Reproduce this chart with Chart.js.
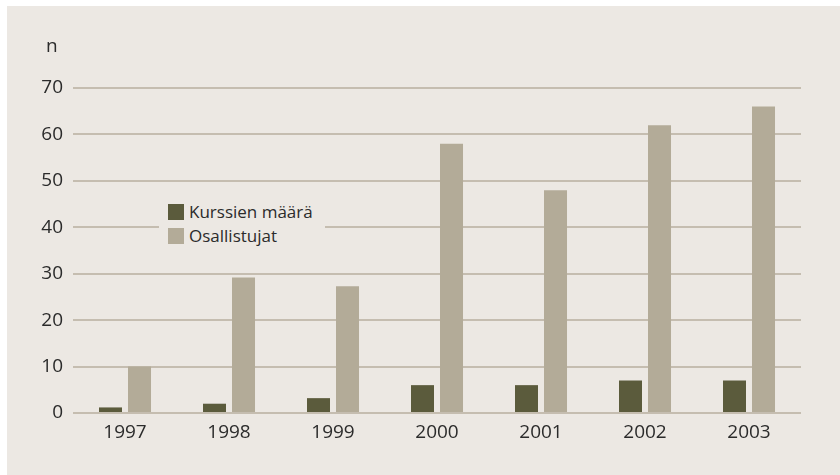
<!DOCTYPE html>
<html>
<head>
<meta charset="utf-8">
<script src="https://cdn.jsdelivr.net/npm/chart.js@4/dist/chart.umd.min.js"></script>
<style>
    html, body { margin: 0; padding: 0; background: #fff; }
    body { width: 840px; height: 475px; position: relative; overflow: hidden; font-family: "Open Sans", sans-serif; }
    .panel { position: absolute; left: 7px; top: 6px; right: 0; bottom: 0; background: #ece8e3; }
    .chart-wrap { position: absolute; left: 0; top: 0; width: 840px; height: 475px; }
    .unit { position: absolute; left: 46px; top: 32px; font-size: 19px; color: #2b2b2b; }
    .legend { position: absolute; left: 159px; top: 199px; width: 166px; height: 50px; background: #ece8e3; }
    .legend-item { position: absolute; left: 9px; height: 16px; font-size: 17px; color: #2b2b2b; line-height: 16px; white-space: nowrap; }
    .legend-item .box { display: inline-block; width: 16px; height: 16px; vertical-align: top; margin-right: 5px; }
</style>
</head>
<body>
<div class="panel"></div>
<div class="chart-wrap"><canvas id="courseChart" width="840" height="475"></canvas></div>
<div class="unit">n</div>
<div class="legend" id="legend"></div>
<script>
const years = ['1997', '1998', '1999', '2000', '2001', '2002', '2003'];
const courseCounts = [1.2, 2, 3.2, 6, 6, 7, 7];
const participants = [10, 29.2, 27.3, 58, 48, 62, 66];
const seriesNames = ['Kurssien määrä', 'Osallistujat'];
const seriesColors = ['#5b5b3c', '#b3ab98'];
const yTicks = [0, 10, 20, 30, 40, 50, 60, 70];

const tickFont = { family: 'Open Sans', size: 19 };

const chart = new Chart(document.getElementById('courseChart'), {
    type: 'bar',
    data: {
        labels: years,
        datasets: [{
            label: seriesNames[0],
            data: courseCounts,
            backgroundColor: seriesColors[0]
        }, {
            label: seriesNames[1],
            data: participants,
            backgroundColor: seriesColors[1]
        }]
    },
    options: {
        responsive: false,
        animation: false,
        layout: { padding: { left: 33, right: 39, top: 88, bottom: 32 } },
        categoryPercentage: 0.558,
        barPercentage: 0.793,
        plugins: {
            legend: { display: false },
            tooltip: { enabled: false }
        },
        scales: {
            x: {
                grid: { display: false },
                border: { display: false },
                ticks: { color: '#2b2b2b', font: tickFont, padding: 0 },
                afterFit: (s) => { s.height = 30; }
            },
            y: {
                min: 0,
                max: 70,
                afterBuildTicks: (s) => { s.ticks = yTicks.map(v => ({ value: v })); },
                grid: { color: '#c5bdb0', lineWidth: 2, drawTicks: false },
                border: { display: false },
                ticks: { color: '#2b2b2b', font: tickFont, padding: 10 },
                afterFit: (s) => { s.width = 40; }
            }
        }
    }
});

// Legend sits inside the plot, covering the gridline like the original
const legend = document.getElementById('legend');
chart.data.datasets.forEach((ds, i) => {
    const item = document.createElement('div');
    item.className = 'legend-item';
    item.style.top = (5 + i * 24) + 'px';
    item.innerHTML = `<span class="box" style="background:${ds.backgroundColor}"></span>${ds.label}`;
    legend.appendChild(item);
});
</script>
</body>
</html>
